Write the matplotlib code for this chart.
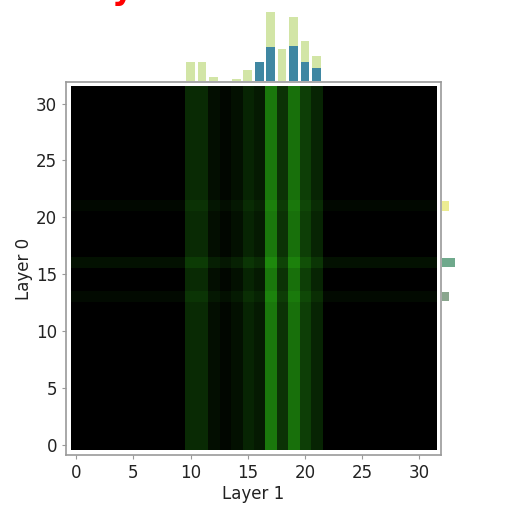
import numpy as np
import matplotlib
matplotlib.use("Agg")
import matplotlib.pyplot as plt

# ---- data ----
n = 32
top_cols = [10, 11, 12, 14, 15, 16, 17, 18, 19, 20, 21]
top_green = [18.7, 18.7, 4.3, 2.0, 11.0, 19.0, 68.7, 32.0, 63.7, 40.3, 25.3]
top_blue = [0, 0, 0, 0, 0, 19.3, 34.3, 0, 35.0, 18.7, 12.7]

right_rows = [21, 16, 13]
right_vals = [7, 13, 7]
right_colors = ["#ecec92", "#6fa98c", "#8aa68e"]

col_intensity_idx = [10, 11, 12, 13, 14, 15, 16, 17, 18, 19, 20, 21]
col_intensity = [42, 42, 14, 6, 16, 36, 26, 120, 50, 112, 62, 36]
row_intensity_idx = [13, 16, 21]
row_intensity = [10, 17, 8]

x_ticks = [0, 5, 10, 15, 20, 25, 30]
y_ticks = [0, 5, 10, 15, 20, 25, 30]

# ---- image ----
col_v = np.zeros(n)
col_v[col_intensity_idx] = col_intensity
row_v = np.zeros(n)
row_v[row_intensity_idx] = row_intensity
G = np.clip(col_v[None, :] + row_v[:, None], 0, 255) / 255.0
img = np.zeros((n, n, 3))
img[..., 1] = G
img[..., 0] = G * 0.22
img[..., 2] = G * 0.1

W, H = 531, 505
fig = plt.figure(figsize=(W / 100, H / 100), dpi=100)

def px(l, t, r, b):
    return [l / W, 1 - b / H, (r - l) / W, (b - t) / H]

ax = fig.add_axes(px(66, 82, 441, 455))
ax.imshow(img, origin="lower", extent=(-0.5, n - 0.5, -0.5, n - 0.5),
          interpolation="nearest", aspect="auto")
ax.set_xlim(-0.9, n - 0.1)
ax.set_ylim(-0.9, n - 0.1)
ax.set_xticks(x_ticks)
ax.set_yticks(y_ticks)
ax.tick_params(labelsize=12, length=3, color="#999999", labelcolor="#222222")
for s in ax.spines.values():
    s.set_color("#999999")
    s.set_linewidth(1.2)
ax.set_xlabel("Layer 1", fontsize=12, color="#222222", labelpad=2)
ax.set_ylabel("Layer 0", fontsize=12, color="#222222", labelpad=2)

axt = fig.add_axes(px(66, 0, 441, 81))
axt.bar(top_cols, top_green, width=0.75, color="#d2e5a6")
axt.bar(top_cols, top_blue, width=0.75, color="#3f87a2")
axt.set_xlim(-0.9, n - 0.1)
axt.set_ylim(0, 81)
axt.axis("off")

axr = fig.add_axes(px(441, 82, 531, 455))
axr.barh(right_rows, right_vals, height=0.8, color=right_colors)
axr.set_ylim(-0.9, n - 0.1)
axr.set_xlim(-1, 89)
axr.axis("off")

fig.text(112 / W, 1 + 1 / H, "y", color="red", fontsize=24, fontweight="bold",
         ha="left", va="baseline")

fig.savefig("out.png", dpi=100)
